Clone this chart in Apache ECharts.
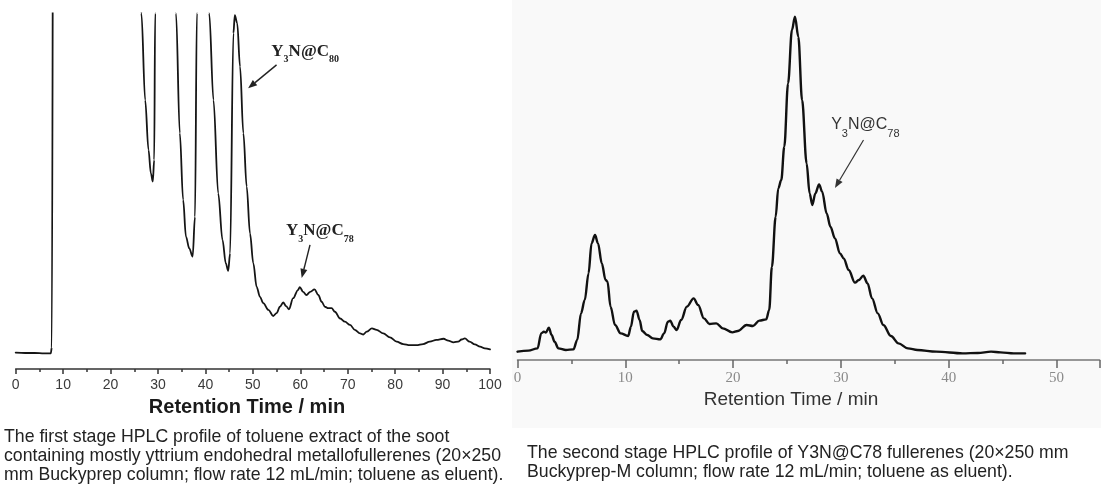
<!DOCTYPE html>
<html><head><meta charset="utf-8">
<script src="https://cdn.jsdelivr.net/npm/echarts@6/dist/echarts.min.js"></script>
<style>html,body{margin:0;padding:0;background:#fff}#c{width:1101px;height:485px}</style>
</head><body><div id="c"></div>
<script>
// ---- Stage 1 chromatogram (Buckyprep column) ----
const stage1Time = [0,2,4,6,7.4,7.6,8.0,8.4,12,20,25.5,26.5,27.3,28.0,28.5,28.9,29.2,29.4,30.5,32.5,33.8,34.6,35.3,35.9,36.6,37.3,37.8,38.2,39.5,40.8,41.7,42.7,43.6,44.3,44.8,45.2,45.9,46.2,46.7,47.3,48.0,48.7,49.4,50.1,50.8,51.5,52.2,53.3,54.3,55.0,55.7,56.4,57.0,57.6,58.5,59.5,59.9,60.6,61.3,62.1,63.0,63.8,64.5,65.2,65.9,66.6,67.3,68.4,69.4,70.5,71.5,72.6,73.3,74.0,75.1,76.1,77.5,78.9,80.3,81.7,83.1,84.5,85.9,87.3,88.7,90.2,91.2,92.3,93.3,94.0,94.7,95.7,96.8,97.9,98.9,100];
const stage1Signal = [4.6,4.5,4.5,4.4,4.4,6,200,400,450,350,150,100,75.6,61.6,55.0,52.7,58.8,100,300,300,100,66.3,47.6,37.2,33.9,31.6,42.8,100,250,100,75.6,49.4,36.3,29.7,27.6,32.5,94.4,99.5,97.2,85.0,66.3,51.3,38.1,29.7,23.1,20.3,18.5,16.6,14.9,15.7,17.5,18.7,17.7,16.8,19.9,22.2,23.0,21.7,20.8,21.7,22.4,20.8,18.9,17.5,17.1,17.1,16.1,14.2,13.3,12.4,11.0,10.0,9.7,10.5,11.4,11.0,10.0,8.9,7.7,7.0,6.7,6.7,7.0,7.7,8.2,8.5,8.0,7.5,7.7,8.3,8.6,7.7,6.9,6.3,5.8,5.5];

// ---- Stage 2 chromatogram (Buckyprep-M column) ----
const stage2Time = [0,1.0,1.86,2.2,2.45,2.63,2.91,3.16,3.44,3.79,4.49,5.19,5.54,5.89,6.24,6.59,6.87,7.19,7.47,7.82,8.17,8.35,8.63,9.05,9.57,10.27,10.52,10.8,11.04,11.33,11.57,12.03,12.55,13.25,13.6,13.95,14.17,14.48,14.76,15.18,15.71,16.34,16.76,17.29,17.81,18.44,19.04,19.92,20.44,21.25,21.84,22.44,23.07,23.35,23.6,23.95,24.19,24.47,24.75,25.1,25.46,25.74,26.05,26.4,26.82,27.1,27.35,27.63,27.98,28.26,28.68,29.03,29.45,29.91,30.26,30.72,31.31,31.66,32.08,32.47,32.89,33.42,33.94,34.64,35.34,36.22,37.1,38.85,41.3,42.7,43.93,44.81,46.04,47.09];
const stage2Signal = [2.5,2.8,3.5,8.0,8.5,8.2,9.7,7.5,5.5,3.5,3.0,3.2,6.0,14,18,26,35,37.5,35,29,24,23.5,16,10.5,8.0,7.2,10,14.5,14.8,12,8.7,7.5,6.5,6.2,8.0,11.5,11.8,10,9.0,12,16,18.5,16.5,12.5,10.8,11,9.5,8.3,8.7,10.5,10.2,11.8,12.2,15,28,43,51.5,54,64,83,99,103,97,78,59,50,46.5,50,52.7,50.5,44,40,36.5,32,30.5,27,23.2,24,25.3,23,18.5,14,10.5,7.2,5.0,3.5,3.0,2.5,2.0,2.1,2.5,2.3,2.0,2.0];

const axisTitle = 'Retention Time / min';
const caption1 = ['The first stage HPLC profile of toluene extract of the soot',
  'containing mostly yttrium endohedral metallofullerenes (20×250',
  'mm Buckyprep column; flow rate 12 mL/min; toluene as eluent).'];
const caption2 = ['The second stage HPLC profile of Y3N@C78 fullerenes (20×250 mm',
  'Buckyprep-M column; flow rate 12 mL/min; toluene as eluent).'];

// annotations: label parts, text anchor (t,v = bottom-left), arrow start (t,v), arrow end (t,v)
const ann1a = {parts:['Y','3','N@C','80'], text:[53.9,85.5], from:[55.0,85.5], to:[49.0,78.9]};
const ann1b = {parts:['Y','3','N@C','78'], text:[57.0,35.1], from:[62.05,34.9], to:[60.3,25.6]};
const ann2  = {parts:['Y','3','N@C','78'], text:[29.1,66.3], from:[32.1,66], to:[29.45,51.6]};

const chart = echarts.init(document.getElementById('c'), null, {renderer:'canvas'});
const pair = (ts, vs) => ts.map((t,i)=>[t, vs[i]]);

chart.setOption({
  animation:false,
  backgroundColor:'#ffffff',
  grid:[
    {left:15.7, top:13.3, width:474.3, height:355.7},
    {left:517.5, top:0, width:582.1, height:360}
  ],
  xAxis:[
    {gridIndex:0, type:'value', min:0, max:100, interval:10,
     axisLine:{lineStyle:{color:'#333', width:1.5}},
     axisTick:{length:5, lineStyle:{color:'#333', width:1.5}},
     minorTick:{show:true, splitNumber:2, length:3, lineStyle:{color:'#333', width:1.5}},
     splitLine:{show:false},
     axisLabel:{color:'#3a3a3a', fontSize:14, fontFamily:'"Liberation Sans", Arial, sans-serif', margin:9}},
    {gridIndex:1, type:'value', min:0, max:54, interval:10,
     axisLine:{lineStyle:{color:'#777', width:1.5}},
     axisTick:{length:8, lineStyle:{color:'#666', width:1.5}},
     minorTick:{show:true, splitNumber:2, length:4, lineStyle:{color:'#666', width:1.5}},
     splitLine:{show:false},
     axisLabel:{color:'#8a8a8a', fontSize:15, fontFamily:'"Liberation Serif", "DejaVu Serif", serif', margin:11, showMaxLabel:false}}
  ],
  yAxis:[
    {gridIndex:0, type:'value', min:0, max:100, show:false},
    {gridIndex:1, type:'value', min:0, max:108, show:false}
  ],
  series:[
    {type:'line', xAxisIndex:0, yAxisIndex:0, data:pair(stage1Time, stage1Signal),
     showSymbol:false, smooth:0.35, smoothMonotone:'x', clip:true,
     lineStyle:{color:'#151515', width:1.8, join:'round', cap:'round'}},
    {type:'line', xAxisIndex:1, yAxisIndex:1, data:pair(stage2Time, stage2Signal),
     showSymbol:false, smooth:0.35, smoothMonotone:'x', clip:true,
     lineStyle:{color:'#111', width:2.4, join:'round', cap:'round'}}
  ]
});

function arrow(p0, p1, color, w){
  const dx=p1[0]-p0[0], dy=p1[1]-p0[1], L=Math.hypot(dx,dy), ux=dx/L, uy=dy/L;
  const hl=9, hw=3.5;
  const bx=p1[0]-ux*hl, by=p1[1]-uy*hl;
  return [
    {type:'line', shape:{x1:p0[0],y1:p0[1],x2:bx,y2:by}, style:{stroke:color, lineWidth:w}, z:10},
    {type:'polygon', shape:{points:[[p1[0],p1[1]],[bx-uy*hw,by+ux*hw],[bx+uy*hw,by-ux*hw]]}, style:{fill:color}, z:10}
  ];
}
function label(ann, grid, rich, color){
  const p = chart.convertToPixel({gridIndex:grid}, ann.text);
  return {type:'text', x:p[0], y:p[1], z:10,
    style:{text:`{m|${ann.parts[0]}}{s|${ann.parts[1]}}{m|${ann.parts[2]}}{s|${ann.parts[3]}}`,
      rich:rich, fill:color, verticalAlign:'bottom'}};
}
const richBold = {
  m:{fontFamily:'"Liberation Serif", serif', fontWeight:'bold', fontSize:17, fill:'#222', verticalAlign:'top', lineHeight:17},
  s:{fontFamily:'"Liberation Serif", serif', fontWeight:'bold', fontSize:10, fill:'#222', verticalAlign:'bottom', padding:[12,0,0,0]}
};
const richSans = {
  m:{fontFamily:'"Liberation Sans", Arial, sans-serif', fontSize:16, fill:'#333', verticalAlign:'top', lineHeight:16},
  s:{fontFamily:'"Liberation Sans", Arial, sans-serif', fontSize:11, fill:'#333', verticalAlign:'bottom', padding:[11,0,0,0]}
};

const g = [];
g.push({type:'rect', shape:{x:512, y:0, width:589, height:428}, style:{fill:'#f9f9f9'}, z:-10, silent:true});
g.push(label(ann1a, 0, richBold, '#222'));
g.push(label(ann1b, 0, richBold, '#222'));
g.push(label(ann2, 1, richSans, '#333'));
[[ann1a,0,'#222',1.4],[ann1b,0,'#222',1.4],[ann2,1,'#333',1.2]].forEach(([a,gi,c,w])=>{
  const p0 = chart.convertToPixel({gridIndex:gi}, a.from);
  const p1 = chart.convertToPixel({gridIndex:gi}, a.to);
  arrow(p0,p1,c,w).forEach(e=>g.push(e));
});
g.push({type:'text', x:247, y:407, style:{text:axisTitle, fill:'#1a1a1a',
  font:'bold 20px "Liberation Sans Narrow", "Liberation Sans", sans-serif', align:'center', verticalAlign:'middle'}});
g.push({type:'text', x:791, y:400, style:{text:axisTitle, fill:'#333',
  font:'19px "Liberation Sans", sans-serif', align:'center', verticalAlign:'middle'}});
caption1.forEach((s,i)=>g.push({type:'text', x:4, y:437+i*19, style:{text:s, fill:'#222',
  font:'17.7px "Liberation Sans Narrow", "Liberation Sans", sans-serif', align:'left', verticalAlign:'middle'}}));
caption2.forEach((s,i)=>g.push({type:'text', x:527, y:453+i*19, style:{text:s, fill:'#222',
  font:'17.7px "Liberation Sans Narrow", "Liberation Sans", sans-serif', align:'left', verticalAlign:'middle'}}));
chart.setOption({graphic:g});
</script></body></html>
